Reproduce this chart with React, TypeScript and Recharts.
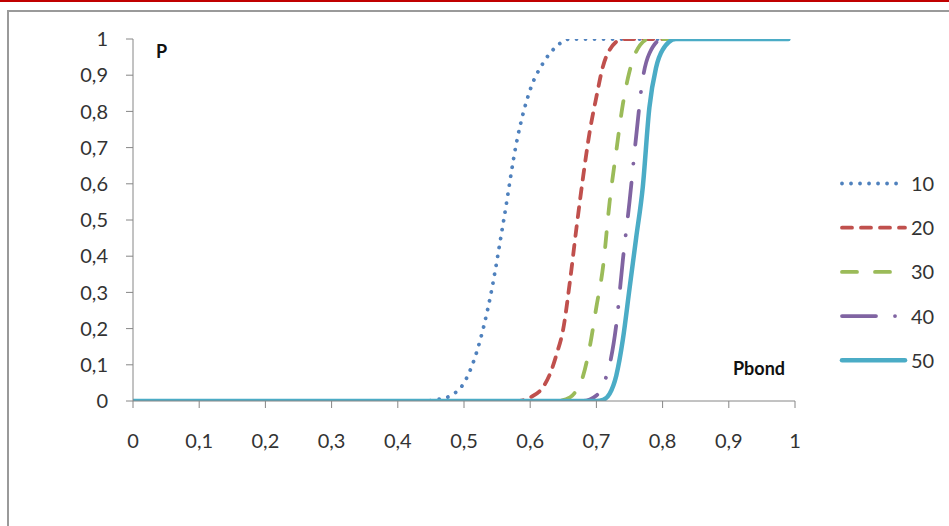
import { LineChart, Line, XAxis, YAxis } from 'recharts';

// P vs Pbond
const x10 = [0, 0.44, 0.46, 0.48, 0.5, 0.52, 0.54, 0.56, 0.58, 0.6, 0.62, 0.64, 0.66, 0.99];
const p10 = [0, 0, 0.004, 0.015, 0.05, 0.14, 0.29, 0.5, 0.72, 0.86, 0.935, 0.98, 1, 1];

const x20 = [0, 0.58, 0.6, 0.62, 0.63, 0.64, 0.65, 0.66, 0.67, 0.68, 0.69, 0.7, 0.71, 0.72, 0.74, 0.99];
const p20 = [0, 0, 0.01, 0.04, 0.075, 0.13, 0.2, 0.33, 0.48, 0.62, 0.745, 0.84, 0.925, 0.97, 1, 1];

const x30 = [0, 0.64, 0.66, 0.67, 0.68, 0.69, 0.7, 0.71, 0.72, 0.73, 0.74, 0.75, 0.76, 0.78, 0.99];
const p30 = [0, 0, 0.01, 0.03, 0.07, 0.15, 0.26, 0.37, 0.55, 0.69, 0.82, 0.91, 0.965, 1, 1];

const x40 = [0, 0.68, 0.7, 0.71, 0.72, 0.73, 0.74, 0.75, 0.76, 0.77, 0.78, 0.8, 0.99];
const p40 = [0, 0, 0.015, 0.045, 0.1, 0.21, 0.39, 0.55, 0.73, 0.89, 0.96, 1, 1];

const x50 = [0, 0.7, 0.71, 0.72, 0.73, 0.74, 0.75, 0.76, 0.77, 0.78, 0.79, 0.8, 0.82, 0.99];
const p50 = [0, 0, 0.003, 0.02, 0.07, 0.17, 0.31, 0.45, 0.59, 0.81, 0.92, 0.97, 1, 1];

const xTicks = [0, 0.1, 0.2, 0.3, 0.4, 0.5, 0.6, 0.7, 0.8, 0.9, 1];
const yTicks = [0, 0.1, 0.2, 0.3, 0.4, 0.5, 0.6, 0.7, 0.8, 0.9, 1];

const zip = (xs: number[], ys: number[]) => xs.map((x, i) => ({ x, y: ys[i] }));

const series = [
  { name: '10', data: zip(x10, p10), color: '#4F81BD', dash: '0.01 9', width: 3.8 },
  { name: '20', data: zip(x20, p20), color: '#C0504D', dash: '10 9', width: 3.8 },
  { name: '30', data: zip(x30, p30), color: '#9BBB59', dash: '15 18', width: 3.8 },
  { name: '40', data: zip(x40, p40), color: '#8064A2', dash: '34 19 0.01 19', width: 3.8 },
  { name: '50', data: zip(x50, p50), color: '#4BACC6', dash: undefined, width: 4.5 },
];

const fmt = (v: number) => String(v).replace('.', ',');
const font = 'Lato, "Open Sans", sans-serif';
const tickStyle = { fill: '#333', fontSize: 20, fontFamily: font };

export default function App() {
  return (
    <div style={{ position: 'absolute', left: 0, top: 0, width: 949, height: 526, overflow: 'hidden', background: '#fff' }}>
      <div style={{ position: 'absolute', left: 0, top: 0, width: 949, height: 2, background: '#C00000' }} />
      <div style={{ position: 'absolute', left: 7, top: 10, width: 1000, height: 600, border: '2px solid #9a9a9a' }} />

      <div style={{ position: 'absolute', left: 0, top: 0 }}>
        <LineChart width={949} height={526} margin={{ top: 39, right: 154, bottom: 0, left: 0 }}>
          <XAxis
            dataKey="x"
            type="number"
            domain={[0, 1]}
            ticks={xTicks}
            tickFormatter={fmt}
            height={125}
            tickSize={7}
            tickMargin={26}
            stroke="#868686"
            tick={tickStyle}
            allowDataOverflow
          />
          <YAxis
            dataKey="y"
            type="number"
            domain={[0, 1]}
            ticks={yTicks}
            tickFormatter={fmt}
            width={133}
            tickSize={7}
            tickMargin={18}
            stroke="#868686"
            tick={tickStyle}
            allowDataOverflow
          />
          {series.map((s) => (
            <Line
              key={s.name}
              name={s.name}
              data={s.data}
              dataKey="y"
              type="monotone"
              dot={false}
              stroke={s.color}
              strokeWidth={s.width}
              strokeDasharray={s.dash}
              strokeLinecap="round"
              isAnimationActive={false}
            />
          ))}
        </LineChart>
      </div>

      <svg width={949} height={526} style={{ position: 'absolute', left: 0, top: 0, pointerEvents: 'none' }}>
        <text x={156} y={58} fontFamily={font} fontWeight="bold" fontSize={18} fill="#111">P</text>
        <text x={733} y={375} fontFamily={font} fontWeight="bold" fontSize={18} fill="#111">Pbond</text>
        {series.map((s, i) => {
          const y = 183.5 + i * 44.2;
          return (
            <g key={s.name}>
              <line x1={842} x2={905} y1={y} y2={y} stroke={s.color} strokeWidth={s.width} strokeDasharray={s.dash} strokeLinecap="round" />
              <text x={911} y={y + 7.5} fontFamily={font} fontSize={20} fill="#333">{s.name}</text>
            </g>
          );
        })}
      </svg>
    </div>
  );
}
